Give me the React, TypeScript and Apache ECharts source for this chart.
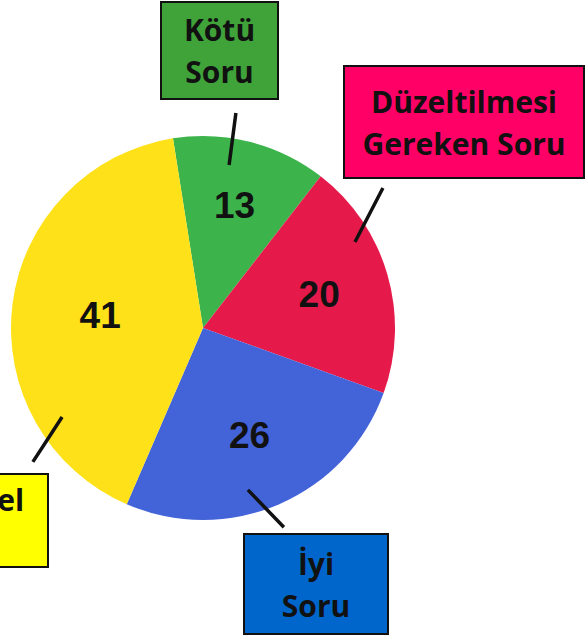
import React, { useEffect, useRef } from "react";
import * as echarts from "echarts";

// ---- data ----
const categories = ["Kötü Soru", "Düzeltilmesi Gereken Soru", "İyi Soru", "Mükemmel Soru"];
const boxLabels = ["Kötü\nSoru", "Düzeltilmesi\nGereken Soru", "İyi\nSoru", "Mükemmel\nSoru"];
const values = [13, 20, 26, 41];

// ---- styles ----
const sliceColors = ["#3cb44b", "#e6194b", "#4363d8", "#ffe119"];
const boxColors = ["#3fa33a", "#ff0066", "#0066cc", "#ffff00"];

// ---- layout ----
const CENTER: [number, number] = [203, 328];
const RADIUS = 192;
const START = 99; // echarts startAngle (deg, counter-clockwise from 3 o'clock)
const LINE_H = 42;

// distance of the value labels from the centre, as a share of the radius
const valueLabelRadius = [0.66, 0.63, 0.61, 0.54];

// callout boxes (center, size) and leader lines in polar coords relative to the pie
// [angle in degrees clockwise from 12 o'clock, distance from pie centre]
const callouts = [
  { cx: 219.5, cy: 50.5, w: 115, h: 95, from: [9.1, 165], to: [8.7, 217.5] },
  { cx: 464, cy: 122, w: 238, h: 110, from: [60.5, 174.6], to: [52.1, 228] },
  { cx: 316, cy: 584, w: 142, h: 98, from: [164.5, 168], to: [157.9, 215] },
  { cx: -61, cy: 520.5, w: 216, h: 91, from: [237.7, 166.7], to: [231.8, 216.5] },
];

function polar(angle: number, r: number): [number, number] {
  const a = (angle * Math.PI) / 180;
  return [CENTER[0] + r * Math.sin(a), CENTER[1] - r * Math.cos(a)];
}

// mid angle of slice i, clockwise from 12 o'clock
function midAngle(i: number): number {
  const total = values.reduce((s, v) => s + v, 0);
  const before = values.slice(0, i).reduce((s, v) => s + v, 0);
  const start = 90 - START;
  return start + ((before + values[i] / 2) / total) * 360;
}

export default function App() {
  const ref = useRef<HTMLDivElement>(null);

  useEffect(() => {
    if (!ref.current) return;
    const chart = echarts.init(ref.current, undefined, { renderer: "svg" });

    const common = {
      type: "pie",
      center: CENTER,
      startAngle: START,
      clockwise: true,
      silent: true,
      avoidLabelOverlap: false,
      emphasis: { disabled: true },
    };

    const option: any = {
      animation: false,
      backgroundColor: "#ffffff",
      series: [
        {
          ...common,
          z: 1,
          radius: RADIUS,
          itemStyle: { borderWidth: 0 },
          label: { show: false },
          labelLine: { show: false },
          data: values.map((v, i) => ({
            name: categories[i],
            value: v,
            itemStyle: { color: sliceColors[i] },
          })),
        },
        {
          ...common,
          z: 4,
          radius: RADIUS,
          itemStyle: { color: "rgba(0,0,0,0)", borderWidth: 0 },
          label: {
            show: true,
            position: "inside",
            formatter: "{c}",
            fontFamily: "Liberation Sans, Arial, sans-serif",
            fontWeight: "bold",
            fontSize: 37,
            color: "#111111",
          },
          labelLine: { show: false },
          labelLayout: (p: any) => {
            const pt = polar(midAngle(p.dataIndex), valueLabelRadius[p.dataIndex] * RADIUS);
            return { x: pt[0], y: pt[1], align: "center", verticalAlign: "middle" };
          },
          data: values.map((v, i) => ({ name: categories[i], value: v })),
        },
        {
          ...common,
          z: 5,
          radius: RADIUS,
          itemStyle: { color: "rgba(0,0,0,0)", borderWidth: 0 },
          label: {
            show: true,
            position: "outside",
            fontFamily: "Open Sans",
            fontWeight: "bold",
            fontSize: 30,
            lineHeight: LINE_H,
            color: "#111111",
            align: "center",
            borderColor: "#111111",
            borderWidth: 2,
          },
          labelLine: {
            show: true,
            length: 10,
            length2: 10,
            smooth: false,
            lineStyle: { color: "#111111", width: 3.5 },
          },
          labelLayout: (p: any) => {
            const c = callouts[p.dataIndex];
            const a = polar(c.from[0], c.from[1]);
            const b = polar(c.to[0], c.to[1]);
            const m: [number, number] = [(a[0] + b[0]) / 2, (a[1] + b[1]) / 2];
            return {
              x: c.cx,
              y: c.cy,
              align: "center",
              verticalAlign: "middle",
              labelLinePoints: [a, m, b],
            };
          },
          data: values.map((v, i) => ({
            name: categories[i],
            value: v,
            label: {
              formatter: boxLabels[i],
              backgroundColor: boxColors[i],
              width: callouts[i].w,
              padding: [(callouts[i].h - 2 * LINE_H) / 2, 0],
            },
          })),
        },
      ],
    };

    chart.setOption(option);
    return () => chart.dispose();
  }, []);

  return (
    <div
      ref={ref}
      style={{ position: "fixed", left: 0, top: 0, width: 585, height: 635, background: "#fff" }}
    />
  );
}
